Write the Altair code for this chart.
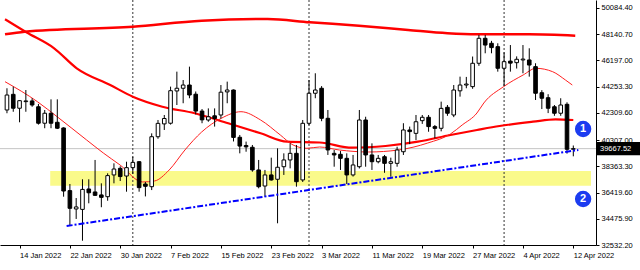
import altair as alt
import pandas as pd

# ---------------- data ----------------
first_day = "2022-01-12"
last_day = "2022-04-12"

opens = [42530, 43690, 42660, 43150, 43200, 42770, 41550, 42290, 41620, 41200,
         36560, 35200, 35170, 36680, 36460, 36240, 36110, 37720, 38210, 37640,
         38260, 38700, 37050, 36850, 40550, 41500, 41550, 43940, 44140, 44380,
         43700, 42450, 41790, 42100, 42160, 43870, 44010, 40510, 39900, 39770,
         38090, 36900, 37720, 37400, 38330, 38830, 39320, 37350, 41545, 43770,
         44140, 41915, 39320, 39250, 38950, 37720, 38330, 41790, 39200, 38700,
         39070, 38580, 38580, 39440, 41050, 40800, 41740, 41990, 41300, 41175,
         42730, 42160, 43950, 44380, 44260, 45990, 47840, 47470, 47220, 45620,
         46150, 46035, 46235, 46235, 45740, 43810, 43440, 42770, 42290, 42950,
         39620]
highs = [44140, 44260, 43270, 44010, 43400, 42980, 42530, 43320, 43320, 41250,
         37050, 36010, 37400, 37400, 38830, 37100, 37840, 38580, 38360, 38700,
         39070, 38750, 37200, 40800, 41790, 42160, 44260, 45370, 44750, 45740,
         43900, 42600, 42650, 42650, 44380, 44630, 44050, 40680, 40190, 39940,
         38830, 38090, 39000, 39690, 39320, 40060, 39940, 41790, 44750, 45250,
         44300, 42530, 39570, 39490, 39320, 39200, 42530, 42030, 40060, 39200,
         39200, 39000, 39810, 41550, 41300, 42160, 42160, 42160, 41420, 43150,
         42900, 44380, 45000, 44980, 46490, 48090, 48090, 47650, 47470, 46800,
         47340, 46500, 47340, 47100, 45990, 44000, 43700, 42900, 43400, 43100,
         39900]
lows = [42290, 42400, 41620, 42400, 42770, 41450, 41180, 41180, 41120, 36110,
        33940, 34460, 32850, 35620, 36160, 35330, 35810, 37100, 37270, 36480,
        37800, 36480, 36130, 36600, 40400, 41050, 41450, 42900, 43030, 43400,
        42200, 41550, 41660, 41300, 41900, 43030, 40200, 39320, 39440, 37960,
        36730, 36110, 37300, 34140, 37720, 38210, 36850, 37200, 41400, 43400,
        41700, 39200, 38330, 38090, 37050, 37600, 38200, 38330, 38090, 38580,
        37880, 37590, 38330, 39200, 40000, 40300, 41500, 40920, 40430, 40950,
        42100, 42000, 43520, 44140, 44100, 45800, 46730, 46730, 45370, 44300,
        45370, 45600, 45250, 45000, 43270, 42600, 42300, 42100, 42100, 39300,
        39100]
closes = [43640, 42660, 43220, 43200, 42900, 41550, 42290, 41550, 41180, 36530,
          35250, 35350, 36650, 36400, 36210, 36060, 37670, 38160, 37600, 38260,
          38650, 36780, 36880, 40550, 41540, 41900, 43960, 44140, 44380, 43640,
          42450, 41800, 42030, 41900, 43850, 44010, 40500, 39860, 39800, 38090,
          36850, 37720, 37350, 38290, 38830, 39320, 37220, 41545, 43770, 44010,
          41915, 39570, 39200, 38950, 37720, 38460, 41790, 39200, 38700, 38950,
          38580, 38700, 39570, 41050, 40930, 41660, 41990, 41300, 41170, 42650,
          42290, 44010, 44380, 44450, 45990, 47840, 47340, 47150, 45620, 46110,
          46000, 46285, 46300, 45860, 43770, 43400, 42660, 42290, 42900, 39620,
          39667.52]

# moving averages (days since 12 Jan 2022, price)
ma200_day = [-0.31, 2.81, 20, 30.94, 41.41, 48.13, 55.94, 63.75, 70, 74.69, 82.97, 90.31]
ma200_val = [48137, 48329, 48699, 49144, 49270, 49025, 48774, 48455, 48211, 48137, 48137, 48033]

ma50_day = [-0.31, 3.08, 7.5, 11.09, 16.41, 20, 24.69, 29.84, 35.16, 40.31, 44.53,
            49.69, 54.84, 60.16, 65.31, 70.47, 74.69, 78.28, 83.59, 87.19, 90]
ma50_val = [49247, 48285, 47100, 45619, 44382, 43515, 42775, 42286, 41545, 40805, 40183,
            40123, 39738, 39864, 40183, 40678, 41049, 41345, 41663, 41841, 41789]

ma20_day = [-0.31, 4.84, 7.97, 12.66, 15.31, 17.97, 21.56, 23.44, 25.78, 28.28, 30.94,
            34.06, 37.19, 40.31, 43.44, 45.47, 47.66, 49.69, 52.81, 57.5, 62.19,
            66.88, 70.47, 72.34, 74.69, 75.78, 78.91, 82.03, 84.06, 86.72, 88.75, 89.84]
ma20_val = [44626, 43145, 42034, 40309, 39346, 38457, 37200, 37272, 38087, 39568, 40901,
            41916, 42404, 41790, 40679, 39938, 39694, 39790, 39568, 39420, 39568,
            40086, 40753, 41420, 42308, 43049, 44256, 45122, 45618, 45367, 44752, 44382]

trend_day = [9.48, 90.8]
trend_val = [33939, 39568]

zone_day = [6.875, 92.8125]
zone_val = [36924, 38013]

month_starts = ["2022-02-01", "2022-03-01", "2022-04-01"]
last_price = 39667.52

badge_text = ["1", "2"]
badge_day = [91.56, 91.56]
badge_val = [41123, 35939]

y_ticks = [32532.20, 34475.90, 36419.60, 38363.30, 40307.00,
           42309.60, 44253.30, 46197.00, 48140.70, 50084.40]
x_tick_dates = ["2022-01-14", "2022-01-22", "2022-01-30", "2022-02-07", "2022-02-15",
                "2022-02-23", "2022-03-03", "2022-03-11", "2022-03-19", "2022-03-27",
                "2022-04-04", "2022-04-12"]

# ---------------- frames ----------------
t0 = pd.Timestamp(first_day)
dates = pd.date_range(first_day, last_day, freq="D")
candles = pd.DataFrame({
    "day": (dates - t0).days,
    "open": opens, "high": highs, "low": lows, "close": closes,
})
ma200 = pd.DataFrame({"day": ma200_day, "v": ma200_val})
ma50 = pd.DataFrame({"day": ma50_day, "v": ma50_val})
ma20 = pd.DataFrame({"day": ma20_day, "v": ma20_val})
trend = pd.DataFrame({"day": trend_day, "v": trend_val})
zone = pd.DataFrame({"d0": [zone_day[0]], "d1": [zone_day[1]],
                     "lo": [zone_val[0]], "hi": [zone_val[1]]})
months = pd.DataFrame({"day": (pd.to_datetime(month_starts) - t0).days})
price = pd.DataFrame({"v": [last_price], "label": [f"{last_price:.2f}"]})
badges = pd.DataFrame({"day": badge_day, "v": badge_val, "t": badge_text})
x_tick_days = [int(d) for d in (pd.to_datetime(x_tick_dates) - t0).days]

# ---------------- scales / axes ----------------
xs = alt.Scale(domain=[-0.3125, 92.8125], nice=False, zero=False)
ys = alt.Scale(domain=[32532.2, 50676], nice=False, zero=False)
x_axis = alt.Axis(title=None, orient="bottom", values=x_tick_days,
                  labelExpr="utcFormat(utc(2022, 0, 12 + datum.value), '%-d %b %Y')",
                  labelAlign="left", labelPadding=3, labelFlush=False,
                  labelOverlap=False, labelBound=False)
y_axis = alt.Axis(title=None, orient="right", values=y_ticks, format=".2f",
                  labelPadding=2, labelOverlap=False, labelFlush=False)


def X(f):
    return alt.X(f, scale=xs, axis=x_axis)


def Y(f):
    return alt.Y(f, scale=ys, axis=y_axis)


band = alt.Chart(zone).mark_rect(color="#fafa8a").encode(
    x=X("d0:Q"), x2="d1:Q", y=Y("lo:Q"), y2="hi:Q")

price_line = alt.Chart(price).mark_rule(color="#c4c4c4", strokeWidth=1).encode(y=Y("v:Q"))

month_lines = alt.Chart(months).mark_rule(color="#333333", strokeWidth=1,
                                          strokeDash=[2, 2]).encode(x=X("day:Q"))

l200 = alt.Chart(ma200).mark_line(color="#ff0000", strokeWidth=2.5,
                                  interpolate="monotone").encode(x=X("day:Q"), y=Y("v:Q"))
l50 = alt.Chart(ma50).mark_line(color="#ff0000", strokeWidth=2.2,
                                interpolate="monotone").encode(x=X("day:Q"), y=Y("v:Q"))
l20 = alt.Chart(ma20).mark_line(color="#ff2020", strokeWidth=1,
                                interpolate="monotone").encode(x=X("day:Q"), y=Y("v:Q"))

wicks = alt.Chart(candles).mark_rule(color="black", strokeWidth=1).encode(
    x=X("day:Q"), y=Y("low:Q"), y2="high:Q")
bodies = alt.Chart(candles).mark_bar(size=3.6, stroke="black", strokeWidth=1).encode(
    x=X("day:Q"), y=Y("open:Q"), y2="close:Q",
    fill=alt.condition(alt.datum.close >= alt.datum.open,
                       alt.value("white"), alt.value("black")))

trend_line = alt.Chart(trend).mark_line(color="#0000ff", strokeWidth=2,
                                        strokeDash=[6, 2, 2, 2]).encode(
    x=X("day:Q"), y=Y("v:Q"))

badge_dots = alt.Chart(badges).mark_point(shape="circle", filled=True, size=320,
                                          color="#1c3cf0", stroke="white",
                                          strokeWidth=1.5, opacity=1).encode(
    x=X("day:Q"), y=Y("v:Q"))
badge_txt = alt.Chart(badges).mark_text(color="white", fontWeight="bold", fontSize=11,
                                        font="Liberation Sans").encode(
    x=X("day:Q"), y=Y("v:Q"), text="t:N")

price_box = alt.Chart(price).mark_point(shape="M-1,-0.31H1V0.31H-1Z", filled=True,
                                        size=1849, color="black", opacity=1).encode(
    x=alt.value(618.5), y=Y("v:Q"))
price_txt = alt.Chart(price).mark_text(color="white", fontSize=7.5, align="left",
                                       font="Liberation Sans").encode(
    x=alt.value(600), y=Y("v:Q"), text="label:N")

chart = alt.layer(
    band, price_line, month_lines, l200, l50, l20, wicks, bodies, trend_line,
    badge_dots, badge_txt, price_box, price_txt
).properties(
    width=596, height=245,
    autosize=alt.AutoSizeParams(type="none"),
    padding={"left": 0, "top": 0, "right": 44, "bottom": 25},
    background="white",
).configure_view(stroke=None).configure_axis(
    grid=False, domainColor="black", domainWidth=1, tickColor="black",
    tickSize=3, labelColor="black", labelFont="Liberation Sans", labelFontSize=7.5,
)

chart.save("out.html", embed_options={"renderer": "svg", "actions": False})
